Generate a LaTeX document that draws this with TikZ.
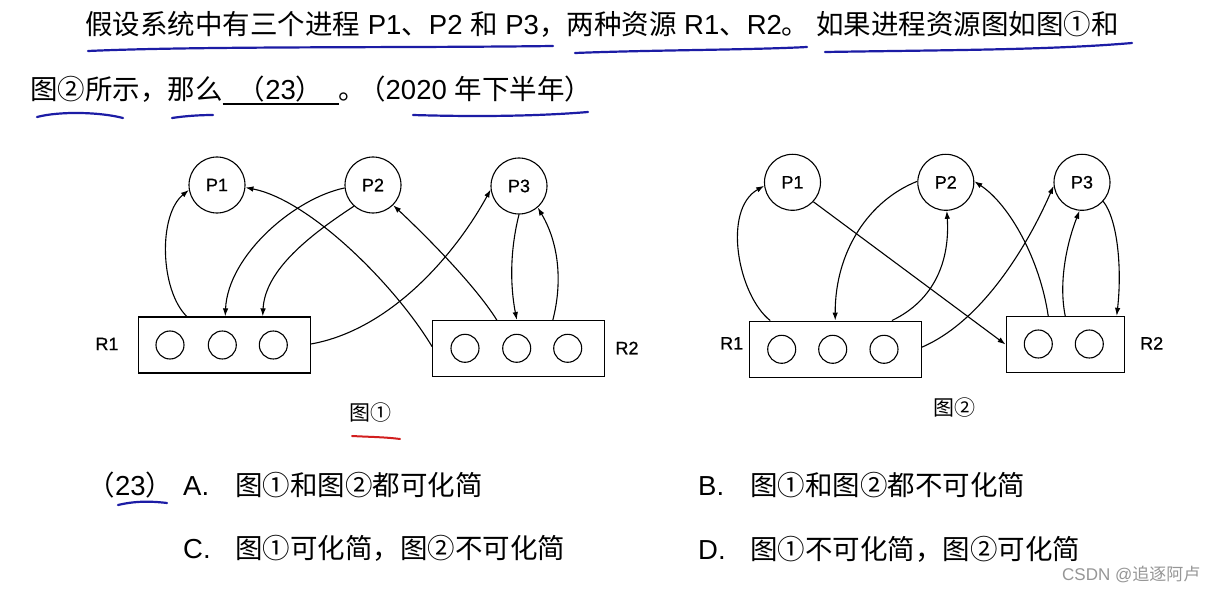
\documentclass[tikz,border=0pt]{standalone}
\usepackage{fontspec}
\setmainfont{Liberation Sans}
\newfontfamily\cjk{Noto Sans CJK SC}
\newfontfamily\diagfont{Liberation Sans}[FakeBold=0.6]
\usetikzlibrary{arrows.meta,calc}
\definecolor{pen}{RGB}{28,28,165}
\definecolor{redpen}{RGB}{210,30,30}
\definecolor{wmark}{RGB}{150,150,150}
\begin{document}
\begin{tikzpicture}[x=1pt,y=1pt,
  proc/.style={circle, draw, line width=1.1pt, minimum size=56pt, inner sep=0, font=\fontsize{18}{20}\selectfont\diagfont},
  res/.style={draw, line width=1.3pt, minimum width=172pt, minimum height=56pt, inner sep=0},
  slot/.style={circle, draw, line width=1.1pt, minimum size=28pt, inner sep=0},
  edge/.style={line width=1.1pt, -{Latex[length=8pt,width=5.5pt]}},
  txt/.style={inner sep=0, anchor=base west, font=\fontsize{27.5}{30}\selectfont},
  lbl/.style={inner sep=0, font=\fontsize{18}{20}\selectfont\diagfont},
  capt/.style={inner sep=0, font=\fontsize{21}{24}\selectfont\cjk},
  hand/.style={pen, line width=2.2pt, line cap=round}]
\useasboundingbox[fill=white] (0,0) rectangle (1221,-591);

% ---------- question text ----------
\node[txt] (q1) at (85,-35) {{\cjk 假设系统中有三个进程} P1{\cjk 、}P2 {\cjk 和} P3{\cjk ，两种资源} R1{\cjk 、}R2{\cjk 。}\hspace{7pt}{\cjk 如果进程资源图如图①和}};
\node[txt] (q2) at (30,-100) {{\cjk 图②所示，那么}\makebox[116pt]{{\cjk （}23{\cjk ）}}\llap{\rule[-5pt]{116pt}{1.8pt}}{\cjk 。}\hspace{-8pt}{\cjk （}2020 {\cjk 年下半年）}};

\draw[hand] (88,-51) .. controls (200,-46) and (400,-48) .. (553,-46);
\draw[hand] (575,-53) .. controls (650,-50) and (750,-50) .. (807,-47);
\draw[hand] (825,-52) .. controls (950,-50) and (1050,-50) .. (1132,-43);
\draw[hand] (37,-117) .. controls (60,-111) and (100,-112) .. (123,-118);
\draw[hand] (172,-118) .. controls (185,-116) and (200,-115) .. (213,-115);
\draw[hand] (413,-115) .. controls (480,-117) and (540,-116) .. (588,-112);

% ---------- figure 1 ----------
\node[proc] (a1) at (217,-185) {P1};
\node[proc] (a2) at (373,-185) {P2};
\node[proc] (a3) at (519,-186) {P3};
\node[res] (ar1) at (224.2,-345) {};
\node[res] (ar2) at (518.8,-348.7) {};
\node[slot] (s11) at (170,-345) {};
\node[slot] (s12) at (222.3,-345) {};
\node[slot] (s13) at (273.3,-345) {};
\node[slot] (s21) at (465,-348.3) {};
\node[slot] (s22) at (516.7,-348.3) {};
\node[slot] (s23) at (567.7,-348.3) {};
\node[lbl] (lar1) at (107,-344) {R1};
\node[lbl] (lar2) at (627,-348) {R2};
\node[capt] (cap1) at (370,-413) {图①};
\draw[redpen, line width=2pt, line cap=round] (352,-436) .. controls (370,-437) and (385,-437) .. (400,-439);

\draw[edge] ([xshift=-37.5]ar1.north) .. controls (160,-290) and (158,-215) .. (a1.190);
\draw[edge] (a2.186) .. controls (295,-198) and (228,-255) .. ([xshift=1]ar1.north);
\draw[edge] (a2.228) .. controls (310,-235) and (265,-270) .. ([xshift=38.5]ar1.north);
\draw[edge] ([yshift=2]ar2.west) .. controls (395,-285) and (310,-200) .. (a1.355);
\draw[edge] ([xshift=-22]ar2.north) .. controls (475,-285) and (425,-235) .. (a2.315);
\draw[edge] ([yshift=1]ar1.east) .. controls (390,-330) and (455,-255) .. (a3.187);
\draw[edge] (a3.south) .. controls (510,-250) and (510,-285) .. ([xshift=-2]ar2.north);
\draw[edge] ([xshift=34]ar2.north) .. controls (562,-285) and (560,-245) .. (a3.311);

% ---------- figure 2 ----------
\node[proc] (b1) at (792.5,-182.3) {P1};
\node[proc] (b2) at (945.8,-182.3) {P2};
\node[proc] (b3) at (1082,-182.3) {P3};
\node[res] (br1) at (835.2,-349.2) {};
\node[res, minimum width=118pt] (br2) at (1065.2,-344.5) {};
\node[slot] (t11) at (781.7,-349.3) {};
\node[slot] (t12) at (832.7,-349.3) {};
\node[slot] (t13) at (884,-349.3) {};
\node[slot] (t21) at (1038.3,-344) {};
\node[slot] (t22) at (1089.3,-344) {};
\node[lbl] (lbr1) at (731.7,-343.3) {R1};
\node[lbl] (lbr2) at (1151.7,-343.3) {R2};
\node[capt] (cap2) at (954.5,-408) {图②};

\draw[edge] ([xshift=-65]br1.north) .. controls (738,-295) and (722,-210) .. (b1.187);
\draw[edge] (b2.178) .. controls (870,-200) and (835,-250) .. (br1.north);
\draw[edge] ([xshift=56.7]br1.north) .. controls (935,-300) and (950,-260) .. (b2.-88);
\draw[edge] (b1.317) -- (br2.west);
\draw[edge] ([yshift=2]br1.east) .. controls (985,-320) and (1030,-240) .. (b3.187);
\draw[edge] ([xshift=-17]br2.north) .. controls (1040,-260) and (1010,-205) .. (b2.2);
\draw[edge] (br2.north) .. controls (1058,-280) and (1068,-240) .. (b3.-95);
\draw[edge] (b3.318) .. controls (1118,-220) and (1122,-270) .. ([xshift=51.5]br2.north);

% ---------- answers ----------
\node[txt] (qn) at (87.5,-495) {{\cjk （}23{\cjk ）}};
\draw[hand] (118,-505) .. controls (135,-501) and (150,-501) .. (167,-503);
\node[txt] (oa) at (183,-495) {\makebox[52pt][l]{A.}{\cjk 图①和图②都可化简}};
\node[txt] (ob) at (698,-495) {\makebox[52pt][l]{B.}{\cjk 图①和图②都不可化简}};
\node[txt] (oc) at (183,-558) {\makebox[52pt][l]{C.}{\cjk 图①可化简，图②不可化简}};
\node[txt] (od) at (698,-559) {\makebox[52pt][l]{D.}{\cjk 图①不可化简，图②可化简}};
\node[inner sep=0, anchor=base west, text=wmark, font=\fontsize{17}{20}\selectfont] (wm) at (1062,-580) {CSDN @{\cjk 追逐阿卢}};
\end{tikzpicture}
\end{document}
